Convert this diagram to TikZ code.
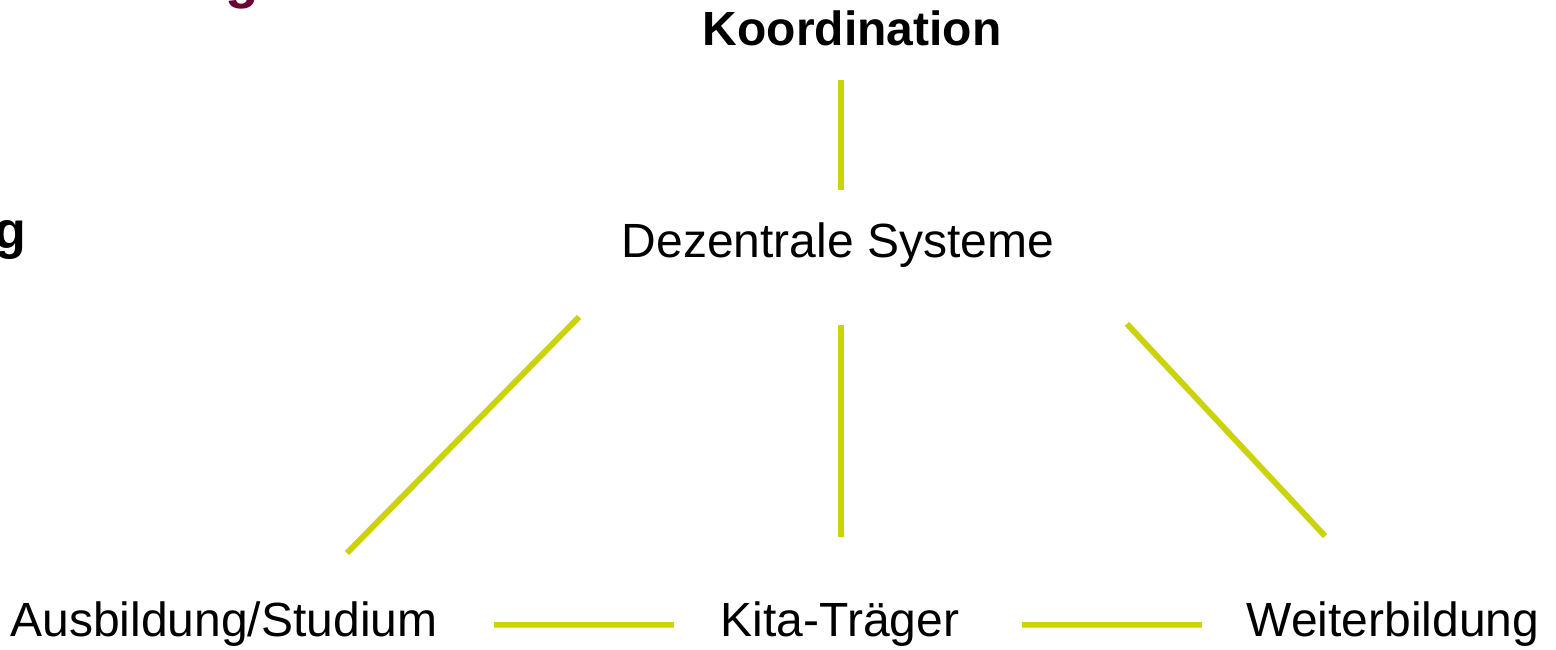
\documentclass[tikz,border=0pt]{standalone}
\usepackage{fontspec}
\setmainfont{Liberation Sans}
\definecolor{linegreen}{RGB}{204,212,0}
\definecolor{maroon}{RGB}{106,0,51}
\tikzset{
  lbl/.style={font=\fontsize{48}{54}\selectfont, inner sep=0pt, anchor=base},
  conn/.style={draw=linegreen, line width=5.5pt},
  shade/.style={draw=black!50, opacity=0.35, line width=6pt},
}
\begin{document}
\begin{tikzpicture}[x=1pt,y=-1pt]
\useasboundingbox (0,0) rectangle (1556,649);
\clip (0,0) rectangle (1556,649);
\fill[white] (0,0) rectangle (1556,649);
% cut-off fragments
\node[font=\bfseries\fontsize{55}{60}\selectfont, text=maroon, inner sep=0pt, anchor=base] (tg) at (242,-3) {g};
\node[font=\bfseries\fontsize{52}{58}\selectfont, inner sep=0pt, anchor=base east] (lg) at (26,248) {g};
% labels
\node[lbl, font=\bfseries\fontsize{48}{54}\selectfont] (koord) at (852,45) {Koordination};
\node[lbl] (dez) at (838,257) {Dezentrale Systeme};
\node[lbl] (aus) at (224,636) {Ausbildung/Studium};
\node[lbl] (kita) at (840,636) {Kita-Träger};
\node[lbl] (weit) at (1393,636) {Weiterbildung};
% connector endpoints
\coordinate (k1) at (841,80);  \coordinate (k2) at (841,190);
\coordinate (l1) at (579,317); \coordinate (l2) at (347,553);
\coordinate (m1) at (841,325); \coordinate (m2) at (841,537);
\coordinate (r1) at (1127,324); \coordinate (r2) at (1325,536);
\coordinate (h1) at (494,624.5); \coordinate (h2) at (674,624.5);
\coordinate (h3) at (1022,624.5); \coordinate (h4) at (1202,624.5);
% shadows
\begin{scope}[shift={(2,3)}]
\foreach \a/\b in {k1/k2,l1/l2,m1/m2,r1/r2,h1/h2,h3/h4}
  \draw[shade] (\a) -- (\b);
\end{scope}
% connectors
\foreach \a/\b in {k1/k2,l1/l2,m1/m2,r1/r2,h1/h2,h3/h4}
  \draw[conn] (\a) -- (\b);
\end{tikzpicture}
\end{document}
